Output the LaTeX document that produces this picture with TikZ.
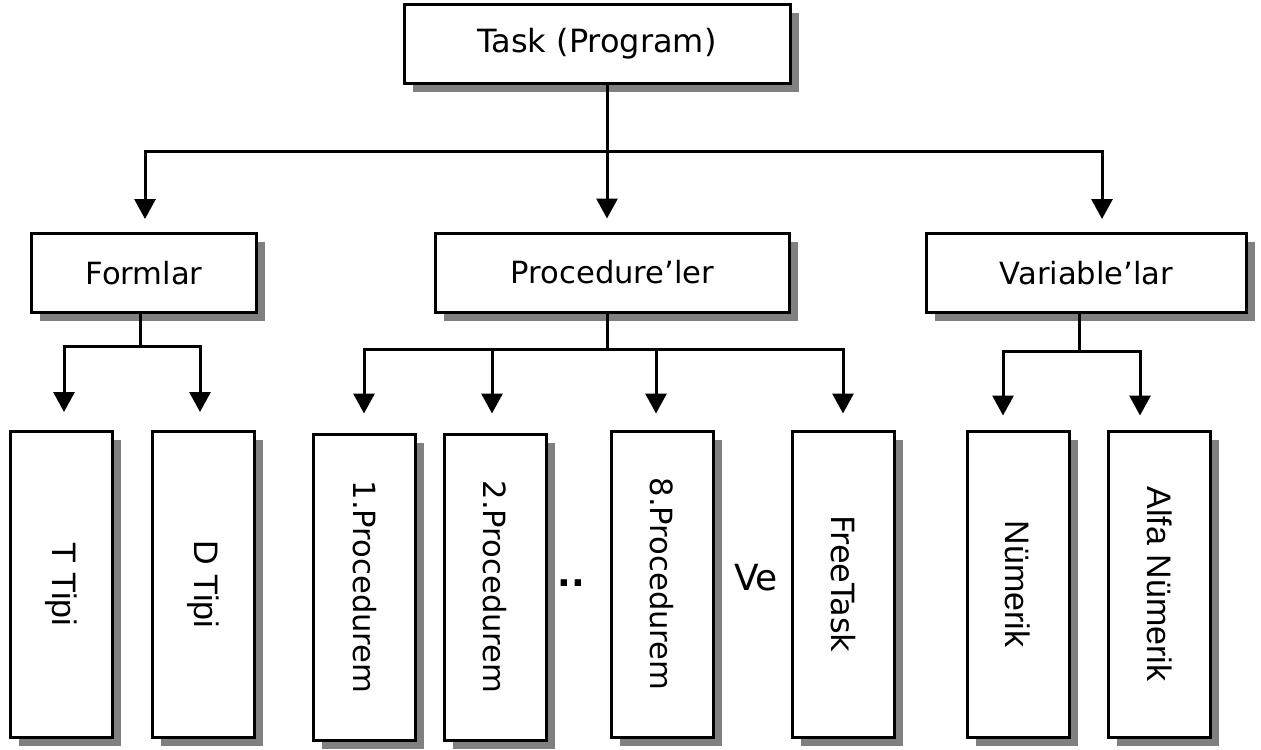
\documentclass[tikz,border=0pt]{standalone}
\usepackage{fontspec}
\setmainfont{DejaVu Sans}
\newfontfamily\arialfont{Liberation Sans}
\usetikzlibrary{shadows, arrows.meta}

\begin{document}
\begin{tikzpicture}[x=0.5pt, y=-0.5pt]
    \tikzstyle{box} = [draw, line width=1.5pt, fill=white, inner sep=0pt, font=\fontsize{15.3}{18}\selectfont,
        drop shadow={shadow xshift=4.25pt, shadow yshift=-4.25pt, fill=black!50, opacity=1}];
    \tikzstyle{widebox} = [box, minimum height=39.5pt];
    \tikzstyle{tallbox} = [box, minimum width=51pt, minimum height=153pt];
    \tikzstyle{arial} = [font=\arialfont\fontsize{17}{18}\selectfont];
    \tikzstyle{link} = [line width=1.5pt];
    \tikzstyle{arrow} = [link, -{Triangle[length=10pt, width=10.5pt]}];
    \useasboundingbox (0,0) rectangle (1261,749);
    % top levels
    \node[widebox, minimum width=193pt, font=\fontsize{16}{18}\selectfont] (task) at (597,44) {Task (Program)};
    \node[widebox, minimum width=112.5pt] (form) at (144,273) {Formlar};
    \node[widebox, minimum width=177pt] (proc) at (612.5,272.5) {Procedure’ler};
    \node[widebox, minimum width=160pt] (var) at (1086.5,273) {Variable’lar};
    % bottom level
    \node[tallbox, arial] (ttip) at (61.5,584.5) {\rotatebox{-90}{T Tipi}};
    \node[tallbox, arial] (dtip) at (203.5,584.5) {\rotatebox{-90}{D Tipi}};
    \node[tallbox] (proc1) at (364.5,587) {\rotatebox{-90}{1.Procedurem}};
    \node[tallbox] (proc2) at (495,587) {\rotatebox{-90}{2.Procedurem}};
    \node[tallbox] (proc8) at (662,584) {\rotatebox{-90}{8.Procedurem}};
    \node[tallbox, font=\fontsize{16}{18}\selectfont] (free) at (843.5,584) {\rotatebox{-90}{FreeTask}};
    \node[tallbox, arial] (num) at (1018,584) {\rotatebox{-90}{Nümerik}};
    \node[tallbox, arial] (alfa) at (1159.5,584) {\rotatebox{-90}{Alfa Nümerik}};
    \node[inner sep=0pt, font=\fontsize{18}{20}\selectfont\bfseries] (dots) at (571.5,583) {..};
    \node[inner sep=0pt, font=\fontsize{18}{20}\selectfont] (ve) at (756,578) {Ve};
    % task branches
    \coordinate (tj) at (607,151);
    \coordinate (tl) at (145,151);
    \coordinate (tr) at (1102,151);
    \draw[link] (task.south -| tj) -- (tj);
    \draw[link, line cap=rect] (tl) -- (tr);
    \draw[arrow, shorten >=6.5pt] (tl) -- (tl |- form.north);
    \draw[arrow, shorten >=6.5pt] (tj) -- (tj |- proc.north);
    \draw[arrow, shorten >=6.5pt] (tr) -- (tr |- var.north);
    % formlar branches
    \coordinate (fj) at (140,346);
    \coordinate (fl) at (64,346);
    \coordinate (fr) at (200,346);
    \draw[link] (form.south -| fj) -- (fj);
    \draw[link, line cap=rect] (fl) -- (fr);
    \draw[arrow, shorten >=9pt] (fl) -- (fl |- ttip.north);
    \draw[arrow, shorten >=9pt] (fr) -- (fr |- dtip.north);
    % procedure branches
    \coordinate (pj) at (607,349);
    \coordinate (pa) at (364,349);
    \coordinate (pb) at (492,349);
    \coordinate (pc) at (656,349);
    \coordinate (pd) at (843,349);
    \draw[link] (proc.south -| pj) -- (pj);
    \draw[link, line cap=rect] (pa) -- (pd);
    \draw[arrow, shorten >=9.5pt] (pa) -- (pa |- proc1.north);
    \draw[arrow, shorten >=9.5pt] (pb) -- (pb |- proc2.north);
    \draw[arrow, shorten >=8pt] (pc) -- (pc |- proc8.north);
    \draw[arrow, shorten >=8pt] (pd) -- (pd |- free.north);
    % variable branches
    \coordinate (vj) at (1079,351);
    \coordinate (vl) at (1003,351);
    \coordinate (vr) at (1140,351);
    \draw[link] (var.south -| vj) -- (vj);
    \draw[link, line cap=rect] (vl) -- (vr);
    \draw[arrow, shorten >=7pt] (vl) -- (vl |- num.north);
    \draw[arrow, shorten >=7pt] (vr) -- (vr |- alfa.north);
\end{tikzpicture}
\end{document}
